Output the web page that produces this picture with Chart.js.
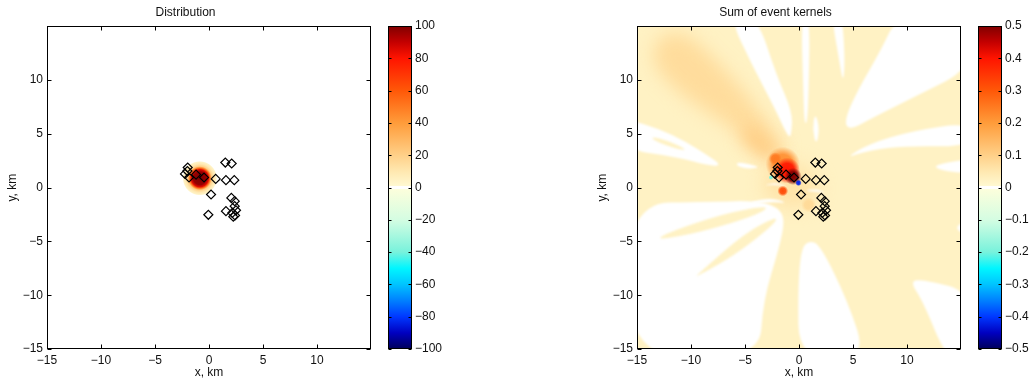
<!DOCTYPE html>
<html>
<head>
<meta charset="utf-8">
<script src="https://cdn.jsdelivr.net/npm/chart.js@4.4.1/dist/chart.umd.min.js"></script>
<style>
  html, body { margin: 0; padding: 0; background: #fff; }
  #wrap { position: relative; width: 1030px; height: 381px; overflow: hidden; }
  canvas { position: absolute; top: 0; }
</style>
</head>
<body>
<div id="wrap">
  <canvas id="distChart" width="380" height="381" style="left:0px"></canvas>
  <canvas id="distBar" width="70" height="381" style="left:380px"></canvas>
  <canvas id="kernChart" width="380" height="381" style="left:590px"></canvas>
  <canvas id="kernBar" width="60" height="381" style="left:970px"></canvas>
</div>
<script>
// station positions (km), same in both panels
const stationX = [-1.97, -2.22, -1.85, -2.0, -1.2, -0.46, 0.62, 1.51, 2.10, 1.57, 2.34, 0.19, 2.07, 2.38, 2.38, 1.57, -0.06, 2.16, 2.41, 2.25, 2.5];
const stationY = [1.88, 1.28, 0.95, 1.55, 1.22, 0.95, 0.82, 2.34, 2.25, 0.70, 0.70, -0.63, -0.95, -1.25, -1.72, -2.18, -2.52, -2.34, -2.58, -2.7, -2.1];

const axisTicks = [-15, -10, -5, 0, 5, 10];

// colour scale, normalised -1..1
const cmapLevels = [-1, -0.9, -0.8, -0.7, -0.6, -0.5, -0.4, -0.2, -0.012, -0.006, 0.006, 0.012, 0.1, 0.2, 0.4, 0.6, 0.8, 0.9, 1];
const cmapColors = ['#00005a', '#0000c0', '#0038ff', '#0080ff', '#00c4ff', '#00f6ff', '#78f2dc', '#d4fde2', '#fcfedc', '#ffffff',
                    '#ffffff', '#fff8d0', '#ffe8b0', '#ffd088', '#ff9c3a', '#ff5808', '#ff1400', '#c40000', '#800000'];

// left panel: distribution blob
const distLimit = 100;
const blobCenter = [-0.85, 0.88];
const blobRadii = [0, 0.6, 0.8, 0.95, 1.1, 1.3, 1.5, 1.6];
const blobValues = [100, 97, 85, 50, 20, 10, 4, 0];

// right panel: sum of kernels
const kernLimit = 0.5;
const kernBase = 0.022;
const warmLevels = [0.075, 0.12, 0.06];
const warmShapes = [
  [[-14, 13], [-11, 15.2], [-5.5, 9.6], [-2.2, 5.2], [-1.2, 3.0], [-2.9, 3.4], [-7, 6.0], [-12.5, 9.8]],
  [[-5, 6.0], [-2.2, 3.8], [-1.4, 2.3], [-3.0, 2.6], [-5.5, 4.6]],
  [[-3, 2], [0, 2.5], [2, 0.5], [1.5, -1.5], [-1, -2], [-3.5, -0.5]]
];
const zeroShapes = [
  [[-16, 6.4], [-13, 5.5], [-10.5, 4.3], [-8.3, 2.9], [-7.2, 2.1], [-8.2, 2.0], [-11.5, 2.9], [-16, 3.5]],
  [[-5.8, 2.4], [-4.6, 2.2], [-3.6, 1.9], [-4.6, 1.75], [-5.7, 1.95]],
  [[-6.5, 16], [-3.9, 16], [-2.1, 10.5], [-0.6, 7], [-0.7, 5], [-0.95, 4.6], [-2.3, 7.5], [-4.4, 11.5]],
  [[0.2, 16], [1.0, 16], [0.9, 9], [0.75, 6], [0.5, 6], [0.4, 9]],
  [[3.0, 16], [4.0, 16], [4.25, 12], [4.1, 9.6], [3.7, 12]],
  [[1.5, 7], [1.9, 5.5], [1.6, 3.9], [1.25, 5.5]],
  [[9.1, 16], [16, 16], [16, 11.1], [11, 8.6], [7, 6.6], [4.6, 5.3], [4.2, 6.3], [5.5, 9.2], [7.6, 12.8]],
  [[16, 6.1], [16, 3.8], [10, 3.9], [6.5, 3.5], [4.2, 2.7], [6.5, 4.1], [10.5, 5.3]],
  [[16, 2.7], [13.5, 2.3], [12.4, 1.95], [13.5, 1.55], [16, 1.3]],
  [[16, -2.9], [14.2, -3.7], [16, -4.7]],
  [[-16, -1.45], [-8, -1.3], [-4, -1.2], [-2, -1.8], [-1.3, -2.9], [-1.8, -5.5], [-3.3, -10.4], [-3.7, -16], [-16, -16]],
  [[0.0, -16], [6.3, -16], [4.5, -10.5], [2.0, -5.4], [1.0, -4.9], [0.2, -5.6], [-0.1, -9.5]],
  [[16, -9.7], [16, -16], [13.7, -16], [11.5, -10.6], [10.2, -8.6], [11.8, -8.6]],
  [[-4.5, -1.3], [-2.5, -0.95], [-1, -1.45], [-2.5, -1.3], [-4.2, -1.55]],
  [[-5.6, -2.2], [-4.2, -2.4], [-5.4, -2.8]],
  [[-3.4, 0.2], [-2.0, 0.5], [-0.9, 0.0], [-2.0, 0.3]],
  [[0.4, -0.3], [1.6, -0.1], [2.6, -0.5], [1.6, -0.35]]
];
const baseShapes = [
  [[-13.6, 4.8], [-11.5, 4.1], [-10.3, 3.45], [-11.5, 3.65], [-13.5, 4.4]],
  [[-2.5, -1.6], [-7, -2.4], [-12.5, -4.3], [-13.1, -4.9], [-9, -4.1], [-4, -2.6]],
  [[-1.9, -2.6], [-5, -4.2], [-9.2, -7.9], [-9.7, -8.4], [-6, -6.3], [-2.4, -3.5]]
];
const spotX = [-1.5, -1.1, -0.55, -2.2, -1.5, -0.05, -2.6, 0.9];
const spotY = [2.2, 1.6, 1.05, 2.7, -0.3, 0.45, 0.95, -1.6];
const spotR = [1.6, 1.2, 0.8, 0.6, 0.5, 0.3, 0.22, 0.7];
const spotPeak = [0.22, 0.4, 0.5, 0.25, 0.32, -0.42, -0.2, 0.08];

const ink = '#111';
const fontFamily = "'Liberation Sans', Arial, sans-serif";
const fontSize = 12;

function hexRgb(h) {
  return [parseInt(h.slice(1, 3), 16), parseInt(h.slice(3, 5), 16), parseInt(h.slice(5, 7), 16)];
}

function colorAt(t, alpha = 1) {
  t = Math.max(-1, Math.min(1, t));
  let i = 0;
  while (i < cmapLevels.length - 2 && t > cmapLevels[i + 1]) i++;
  const f = (t - cmapLevels[i]) / (cmapLevels[i + 1] - cmapLevels[i]);
  const a = hexRgb(cmapColors[i]), b = hexRgb(cmapColors[i + 1]);
  const c = a.map((v, k) => Math.round(v + (b[k] - v) * f));
  return `rgba(${c[0]},${c[1]},${c[2]},${alpha})`;
}

function fmtTick(v) {
  const r = Math.round(v * 10) / 10;
  if (r === 0) return '0';
  return r < 0 ? '\u2212' + Math.abs(r) : String(r);
}

function tracePath(ctx, chart, pts) {
  const { x, y } = chart.scales;
  const p = pts.map(([a, b]) => [x.getPixelForValue(a), y.getPixelForValue(b)]);
  const n = p.length;
  const mid = (u, v) => [(u[0] + v[0]) / 2, (u[1] + v[1]) / 2];
  const m0 = mid(p[n - 1], p[0]);
  ctx.beginPath();
  ctx.moveTo(m0[0], m0[1]);
  for (let i = 0; i < n; i++) {
    const m = mid(p[i], p[(i + 1) % n]);
    ctx.quadraticCurveTo(p[i][0], p[i][1], m[0], m[1]);
  }
  ctx.closePath();
}

function clipArea(chart) {
  const a = chart.chartArea;
  chart.ctx.save();
  chart.ctx.beginPath();
  chart.ctx.rect(a.left, a.top, a.right - a.left, a.bottom - a.top);
  chart.ctx.clip();
}

const distField = {
  id: 'distField',
  beforeDatasetsDraw(chart) {
    const { ctx, scales: { x, y } } = chart;
    clipArea(chart);
    const cx = x.getPixelForValue(blobCenter[0]);
    const cy = y.getPixelForValue(blobCenter[1]);
    const rKm = blobRadii[blobRadii.length - 1];
    const rPx = x.getPixelForValue(blobCenter[0] + rKm) - cx;
    const g = ctx.createRadialGradient(cx, cy, 0, cx, cy, rPx);
    blobRadii.forEach((r, i) => g.addColorStop(r / rKm, colorAt(blobValues[i] / distLimit)));
    ctx.fillStyle = g;
    ctx.beginPath();
    ctx.arc(cx, cy, rPx, 0, Math.PI * 2);
    ctx.fill();
    ctx.restore();
  }
};

const kernField = {
  id: 'kernField',
  beforeDatasetsDraw(chart) {
    const { ctx, chartArea: a, scales: { x, y } } = chart;
    clipArea(chart);
    ctx.fillStyle = colorAt(kernBase / kernLimit);
    ctx.fillRect(a.left, a.top, a.right - a.left, a.bottom - a.top);

    ctx.filter = 'blur(9px)';
    warmShapes.forEach((s, i) => {
      tracePath(ctx, chart, s);
      ctx.fillStyle = colorAt(warmLevels[i] / kernLimit);
      ctx.fill();
    });
    ctx.filter = 'blur(0.8px)';
    zeroShapes.forEach(s => {
      tracePath(ctx, chart, s);
      ctx.fillStyle = '#ffffff';
      ctx.fill();
    });
    baseShapes.forEach(s => {
      tracePath(ctx, chart, s);
      ctx.fillStyle = colorAt(kernBase / kernLimit);
      ctx.fill();
    });
    ctx.filter = 'none';

    spotX.forEach((sx, i) => {
      const cx = x.getPixelForValue(sx), cy = y.getPixelForValue(spotY[i]);
      const r = x.getPixelForValue(sx + spotR[i]) - cx;
      const t = spotPeak[i] / kernLimit;
      const g = ctx.createRadialGradient(cx, cy, 0, cx, cy, r);
      g.addColorStop(0, colorAt(t, 1));
      g.addColorStop(0.55, colorAt(t, 0.9));
      g.addColorStop(1, colorAt(t, 0));
      ctx.fillStyle = g;
      ctx.beginPath();
      ctx.arc(cx, cy, r, 0, Math.PI * 2);
      ctx.fill();
    });
    ctx.restore();
  }
};

// box with inward tick marks, as in the original figure
const boxFrame = {
  id: 'boxFrame',
  afterDraw(chart) {
    const { ctx, chartArea: a, scales: { x, y } } = chart;
    const L = Math.round(a.left) + 0.5, R = Math.round(a.right) - 0.5;
    const T = Math.round(a.top) + 0.5, B = Math.round(a.bottom) - 0.5;
    ctx.save();
    ctx.strokeStyle = '#000';
    ctx.lineWidth = 1;
    ctx.beginPath();
    axisTicks.forEach(v => {
      const px = Math.round(x.getPixelForValue(v)) + 0.5;
      const py = Math.round(y.getPixelForValue(v)) + 0.5;
      ctx.moveTo(px, B); ctx.lineTo(px, B - 4);
      ctx.moveTo(px, T); ctx.lineTo(px, T + 4);
      ctx.moveTo(L, py); ctx.lineTo(L + 4, py);
      ctx.moveTo(R, py); ctx.lineTo(R - 4, py);
    });
    ctx.stroke();
    ctx.strokeRect(L, T, R - L, B - T);
    ctx.restore();
  }
};

const colorBar = {
  id: 'colorBar',
  beforeDatasetsDraw(chart) {
    const { ctx, chartArea: a, scales: { y } } = chart;
    const lim = y.max;
    const g = ctx.createLinearGradient(0, y.getPixelForValue(-lim), 0, y.getPixelForValue(lim));
    cmapLevels.forEach((l, i) => g.addColorStop((l + 1) / 2, cmapColors[i]));
    ctx.fillStyle = g;
    ctx.fillRect(a.left, a.top, a.right - a.left, a.bottom - a.top);
  },
  afterDraw(chart) {
    const { ctx, chartArea: a, scales: { y } } = chart;
    const L = Math.round(a.left) + 0.5, R = Math.round(a.right) - 0.5;
    const T = Math.round(a.top) + 0.5, B = Math.round(a.bottom) - 0.5;
    ctx.save();
    ctx.strokeStyle = '#000';
    ctx.lineWidth = 1;
    ctx.beginPath();
    y.ticks.forEach(t => {
      const py = Math.round(y.getPixelForValue(t.value)) + 0.5;
      ctx.moveTo(L, py); ctx.lineTo(L + 3, py);
      ctx.moveTo(R, py); ctx.lineTo(R - 3, py);
    });
    ctx.stroke();
    ctx.strokeRect(L, T, R - L, B - T);
    ctx.restore();
  }
};

function fieldChart(id, title, plugin) {
  const font = { family: fontFamily, size: fontSize };
  return new Chart(document.getElementById(id), {
    type: 'scatter',
    data: {
      datasets: [{
        data: stationX.map((v, i) => ({ x: v, y: stationY[i] })),
        pointStyle: 'rectRot',
        pointRadius: 4.5,
        borderColor: '#000',
        borderWidth: 1.2,
        backgroundColor: 'rgba(0,0,0,0)'
      }]
    },
    options: {
      responsive: false,
      animation: false,
      devicePixelRatio: 1,
      events: [],
      layout: { padding: { left: 0, right: 9, top: 0, bottom: 0 } },
      plugins: {
        legend: { display: false },
        tooltip: { enabled: false },
        title: { display: true, text: title, color: ink, font: { ...font, weight: 'normal' }, padding: { top: 5, bottom: 7 } }
      },
      scales: {
        x: {
          type: 'linear', min: -15, max: 15,
          ticks: { stepSize: 5, color: ink, font, padding: 4, maxRotation: 0, autoSkip: false, callback: v => (v === 15 ? '' : fmtTick(v)) },
          grid: { display: false, drawTicks: false },
          border: { display: false },
          title: { display: true, text: 'x, km', color: ink, font, padding: { top: 0, bottom: 1 } },
          afterFit(s) { s.height = 32; }
        },
        y: {
          type: 'linear', min: -15, max: 15,
          ticks: { stepSize: 5, color: ink, font, padding: 4, autoSkip: false, callback: v => (v === 15 ? '' : fmtTick(v)) },
          grid: { display: false, drawTicks: false },
          border: { display: false },
          title: { display: true, text: 'y, km', color: ink, font, padding: { top: 5, bottom: 0 } },
          afterFit(s) { s.width = 47; }
        }
      }
    },
    plugins: [plugin, boxFrame]
  });
}

function barChart(id, lim, step, axisWidth) {
  return new Chart(document.getElementById(id), {
    type: 'scatter',
    data: { datasets: [] },
    options: {
      responsive: false,
      animation: false,
      devicePixelRatio: 1,
      events: [],
      layout: { padding: { left: 8, top: 26, bottom: 32, right: 0 } },
      plugins: { legend: { display: false }, tooltip: { enabled: false } },
      scales: {
        x: { display: false, min: 0, max: 1 },
        y: {
          position: 'right', min: -lim, max: lim,
          ticks: { stepSize: step, color: ink, font: { family: fontFamily, size: fontSize }, padding: 3, autoSkip: false, callback: fmtTick },
          grid: { display: false, drawTicks: false },
          border: { display: false },
          afterFit(s) { s.width = axisWidth; }
        }
      }
    },
    plugins: [colorBar]
  });
}

fieldChart('distChart', 'Distribution', distField);
barChart('distBar', distLimit, 20, 38);
fieldChart('kernChart', 'Sum of event kernels', kernField);
barChart('kernBar', kernLimit, 0.1, 28);
</script>
</body>
</html>
